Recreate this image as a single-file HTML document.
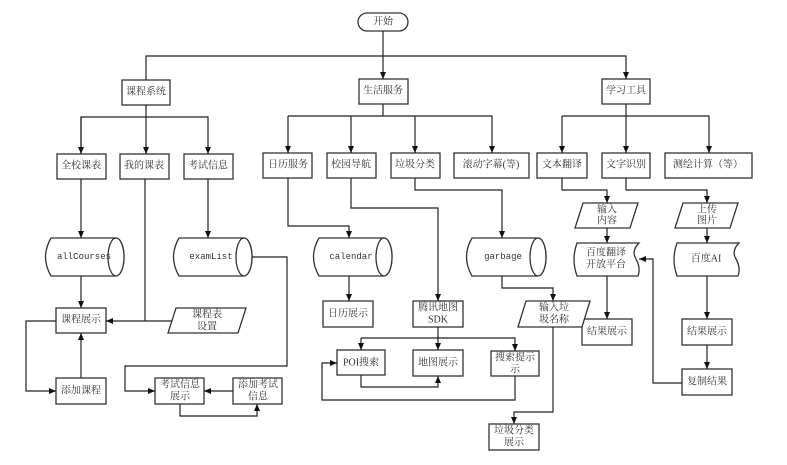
<!DOCTYPE html>
<html><head><meta charset="utf-8"><style>
html,body{margin:0;padding:0;background:#fff;}
svg{display:block;}
text{font-family:"Liberation Serif","Noto Serif CJK SC",serif;font-size:10px;fill:#333;text-anchor:middle;dominant-baseline:central;}
.m{font-family:"Liberation Mono",monospace;font-size:9px;}
</style></head><body>
<svg width="787" height="465" viewBox="0 0 787 465" xmlns="http://www.w3.org/2000/svg">
<defs><marker id="a" markerWidth="8" markerHeight="8" refX="7" refY="4" orient="auto" markerUnits="userSpaceOnUse"><path d="M0,1 L7,4 L0,7 z" fill="#111"/></marker></defs>
<g fill="#fff" stroke="#333" stroke-width="1.3">
<rect x="358" y="13" width="50" height="18" rx="9"/>
<rect x="122" y="80" width="48" height="25"/><rect x="359" y="79" width="49" height="25"/><rect x="602" y="79" width="48" height="25"/>
<rect x="57" y="154" width="49" height="25"/><rect x="120" y="154" width="49" height="25"/><rect x="184" y="154" width="49" height="25"/>
<rect x="263" y="153" width="49" height="25"/><rect x="327" y="153" width="49" height="25"/><rect x="391" y="153" width="49" height="25"/><rect x="454" y="153" width="75" height="25"/>
<rect x="537" y="153" width="50" height="25"/><rect x="602" y="153" width="48" height="25"/><rect x="665" y="153" width="87" height="25"/>
<rect x="56" y="308" width="50" height="25"/><rect x="56" y="378" width="50" height="26"/>
<rect x="155" y="378" width="49" height="26"/><rect x="233" y="378" width="49" height="26"/>
<rect x="323" y="301" width="50" height="26"/><rect x="413" y="301" width="50" height="26"/>
<rect x="337" y="350" width="48" height="25"/><rect x="413" y="350" width="50" height="26"/><rect x="491" y="351" width="48" height="25"/>
<rect x="489" y="424" width="50" height="26"/>
<rect x="582" y="319" width="50" height="26"/><rect x="682" y="319" width="50" height="26"/><rect x="682" y="369" width="50" height="26"/>
<path d="M176,308 L246,308 L238,333 L168,333 z"/>
<path d="M583,203 L638,203 L630,228 L575,228 z"/>
<path d="M683,203 L738,203 L730,228 L675,228 z"/>
<path d="M526,301 L590,301 L582,327 L518,327 z"/>
<!-- cylinders -->
<path d="M51,238 L116,238 A8,19 0 0 1 116,276 L51,276 Q40,257 51,238 z"/><ellipse cx="116" cy="257" rx="8" ry="19"/>
<path d="M179,238 L244,238 A8,19 0 0 1 244,276 L179,276 Q168,257 179,238 z"/><ellipse cx="244" cy="257" rx="8" ry="19"/>
<path d="M319,238 L384,238 A8,19 0 0 1 384,276 L319,276 Q308,257 319,238 z"/><ellipse cx="384" cy="257" rx="8" ry="19"/>
<path d="M472,238 L538,238 A8,19 0 0 1 538,276 L472,276 Q461,257 472,238 z"/><ellipse cx="538" cy="257" rx="8" ry="19"/>
<!-- docs -->
<path d="M577,243 L639,243 Q631,251 636,259 Q641,268 638,276 L577,276 Q571,259 577,243 z"/>
<path d="M677,243 L739,243 Q731,251 736,259 Q741,268 738,276 L677,276 Q671,259 677,243 z"/>
</g>
<g fill="none" stroke="#222" stroke-width="1.2">
<path d="M383,31 V79" marker-end="url(#a)"/>
<path d="M146,80 V56 H626 V79" marker-end="url(#a)"/>
<path d="M146,105 V154" marker-end="url(#a)"/><path d="M81,154 V117 H208 V154" marker-end="url(#a)"/><path d="M81,117 V154" marker-end="url(#a)"/>
<path d="M383,104 V116"/><path d="M288,116 H492 V153" marker-end="url(#a)"/><path d="M288,116 V153" marker-end="url(#a)"/><path d="M351,116 V153" marker-end="url(#a)"/><path d="M415,116 V153" marker-end="url(#a)"/>
<path d="M626,104 V153" marker-end="url(#a)"/><path d="M562,116 H709 V153" marker-end="url(#a)"/><path d="M562,116 V153" marker-end="url(#a)"/>
<path d="M81,179 V238" marker-end="url(#a)"/><path d="M208,179 V238" marker-end="url(#a)"/>
<path d="M288,178 V226 H349 V238" marker-end="url(#a)"/>
<path d="M415,178 V190 H502 V238" marker-end="url(#a)"/>
<path d="M351,178 V208 H438 V301" marker-end="url(#a)"/>
<path d="M562,178 V190 H607 V203" marker-end="url(#a)"/><path d="M607,228 V243" marker-end="url(#a)"/>
<path d="M626,178 V190 H707 V203" marker-end="url(#a)"/><path d="M707,228 V243" marker-end="url(#a)"/>
<path d="M607,276 V319" marker-end="url(#a)"/><path d="M707,276 V319" marker-end="url(#a)"/><path d="M707,345 V369" marker-end="url(#a)"/>
<path d="M682,383 H653 V259 H639" marker-end="url(#a)"/>
<path d="M81,276 V308" marker-end="url(#a)"/>
<path d="M145,179 V321"/><path d="M172,321 H106" marker-end="url(#a)"/>
<path d="M56,321 H26 V391 H56" marker-end="url(#a)"/><path d="M81,378 V333" marker-end="url(#a)"/>
<path d="M252,257 H287 V366 H125 V391 H155" marker-end="url(#a)"/>
<path d="M233,391 H204" marker-end="url(#a)"/><path d="M180,404 V416 H257 V404" marker-end="url(#a)"/>
<path d="M349,276 V301" marker-end="url(#a)"/>
<path d="M438,327 V350" marker-end="url(#a)"/>
<path d="M361,338 H515 V351" marker-end="url(#a)"/><path d="M361,338 V350" marker-end="url(#a)"/>
<path d="M361,375 V387 H438 V376" marker-end="url(#a)"/>
<path d="M515,376 V400 H322 V363 H337" marker-end="url(#a)"/>
<path d="M502,276 V288 H553 V301" marker-end="url(#a)"/>
<path d="M553,327 V412 H514 V424" marker-end="url(#a)"/>
</g>
<text x="383" y="22">开始</text>
<text x="146" y="92">课程系统</text><text x="383" y="91">生活服务</text><text x="626" y="91">学习工具</text>
<text x="81" y="166">全校课表</text><text x="144" y="166">我的课表</text><text x="208" y="166">考试信息</text>
<text x="288" y="165">日历服务</text><text x="351" y="165">校园导航</text><text x="415" y="165">垃圾分类</text><text x="491" y="165">滚动字幕(等)</text>
<text x="562" y="165">文本翻译</text><text x="626" y="165">文字识别</text><text x="708" y="165">测绘计算（等）</text>
<text class="m" x="84" y="257">allCourses</text><text class="m" x="211" y="257">examList</text><text class="m" x="351" y="257">calendar</text><text class="m" x="503" y="257">garbage</text>
<text x="607" y="210">输入</text><text x="607" y="221">内容</text>
<text x="707" y="210">上传</text><text x="707" y="221">图片</text>
<text x="606" y="253">百度翻译</text><text x="606" y="265">开放平台</text><text x="706" y="259">百度AI</text>
<text x="81" y="320">课程展示</text><text x="207" y="315">课程表</text><text x="207" y="327">设置</text>
<text x="81" y="391">添加课程</text>
<text x="180" y="385">考试信息</text><text x="180" y="397">展示</text>
<text x="258" y="385">添加考试</text><text x="258" y="397">信息</text>
<text x="348" y="314">日历展示</text>
<text x="438" y="308">腾讯地图</text><text x="438" y="320">SDK</text>
<text x="361" y="363">POI搜索</text><text x="438" y="363">地图展示</text>
<text x="515" y="358">搜索提示</text><text x="515" y="370">示</text>
<text x="554" y="308">输入垃</text><text x="554" y="320">圾名称</text>
<text x="514" y="431">垃圾分类</text><text x="514" y="443">展示</text>
<text x="607" y="332">结果展示</text><text x="707" y="332">结果展示</text><text x="707" y="382">复制结果</text>
</svg>
</body></html>
